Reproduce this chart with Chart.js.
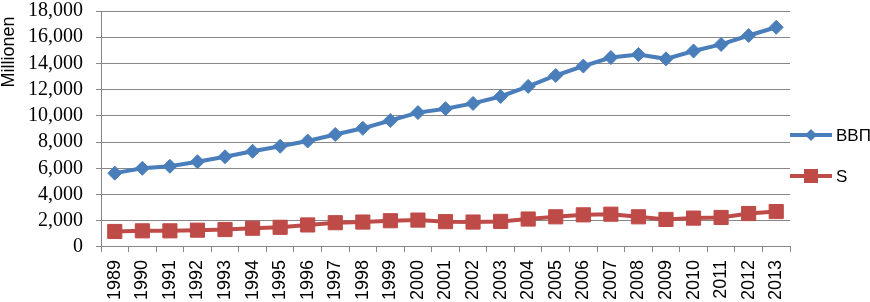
<!DOCTYPE html>
<html>
<head>
<meta charset="utf-8">
<script src="https://cdn.jsdelivr.net/npm/chart.js"></script>
<style>
  body { margin: 0; background: #fff; }
  #wrap { width: 870px; height: 302px; position: relative; }
</style>
</head>
<body>
<div id="wrap"><canvas id="myChart"></canvas></div>
<script>
const years = ['1989','1990','1991','1992','1993','1994','1995','1996','1997','1998','1999','2000',
  '2001','2002','2003','2004','2005','2006','2007','2008','2009','2010','2011','2012','2013'];
const bvp = [5630, 6000, 6150, 6500, 6880, 7300, 7680, 8080, 8580, 9050, 9650, 10250,
  10550, 10950, 11480, 12250, 13080, 13800, 14450, 14680, 14350, 14950, 15450, 16130, 16760];
const sVals = [1180, 1230, 1230, 1280, 1330, 1430, 1500, 1680, 1850, 1900, 2000, 2050,
  1930, 1900, 1950, 2130, 2300, 2450, 2500, 2300, 2100, 2200, 2250, 2550, 2700];
const yMax = 18000;
const yStep = 2000;
const yTitle = 'Millionen';

const blue = '#4a7ebb';
const red = '#be4b48';
const gridColor = '#878787';

// legend drawn by hand: line + marker + label, like the office style
const sideLegend = {
  id: 'sideLegend',
  afterDraw(chart) {
    const ctx = chart.ctx;
    const x0 = chart.chartArea.right;
    const rows = [
      { label: 'ВВП', color: blue, shape: 'diamond', y: 135 },
      { label: 'S', color: red, shape: 'square', y: 176 }
    ];
    ctx.save();
    rows.forEach(r => {
      ctx.strokeStyle = r.color;
      ctx.lineWidth = 4;
      ctx.beginPath();
      ctx.moveTo(x0, r.y);
      ctx.lineTo(x0 + 42, r.y);
      ctx.stroke();
      ctx.fillStyle = r.color;
      const cx = x0 + 21;
      ctx.beginPath();
      if (r.shape === 'diamond') {
        ctx.moveTo(cx, r.y - 6);
        ctx.lineTo(cx + 6, r.y);
        ctx.lineTo(cx, r.y + 6);
        ctx.lineTo(cx - 6, r.y);
        ctx.closePath();
      } else {
        ctx.rect(cx - 7, r.y - 7, 14, 14);
      }
      ctx.fill();
      ctx.fillStyle = '#000';
      ctx.font = '17px "Liberation Sans", Arial, sans-serif';
      ctx.textBaseline = 'middle';
      ctx.textAlign = 'left';
      ctx.fillText(r.label, x0 + 46, r.y + 1);
    });

    // y axis title, sits near the top like in the original
    ctx.translate(9, 52);
    ctx.rotate(-Math.PI / 2);
    ctx.fillStyle = '#000';
    ctx.font = '18px "Liberation Sans", Arial, sans-serif';
    ctx.textAlign = 'center';
    ctx.textBaseline = 'middle';
    ctx.fillText(yTitle, 0, 0);
    ctx.restore();
  }
};

const ctx = document.getElementById('myChart').getContext('2d');
const myChart = new Chart(ctx, {
  type: 'line',
  data: {
    labels: years,
    datasets: [
      {
        label: 'ВВП',
        data: bvp,
        borderColor: blue,
        backgroundColor: blue,
        borderWidth: 4,
        pointStyle: 'rectRot',
        pointRadius: 7,
        pointBorderWidth: 1,
        tension: 0
      },
      {
        label: 'S',
        data: sVals,
        borderColor: red,
        backgroundColor: red,
        borderWidth: 4,
        pointStyle: 'rect',
        pointRadius: 10,
        pointBorderWidth: 1,
        tension: 0
      }
    ]
  },
  options: {
    responsive: true,
    maintainAspectRatio: false,
    animation: false,
    layout: { padding: { top: 0, right: 80, left: 0, bottom: -6 } },
    plugins: {
      legend: { display: false },
      tooltip: { enabled: false }
    },
    scales: {
      x: {
        offset: true,
        grid: { offset: true, drawOnChartArea: false, color: gridColor, tickLength: 5 },
        border: { color: gridColor },
        ticks: {
          maxRotation: 90, minRotation: 90, autoSkip: false, padding: 8,
          color: '#000',
          font: { family: '"Liberation Sans", Arial, sans-serif', size: 18 }
        }
      },
      y: {
        min: 0,
        max: yMax,
        // fixed axis box so the plot starts where the original does
        afterFit(scale) {
          scale.width = 101;
          scale.paddingTop = 7;
          scale.paddingBottom = 0;
        },
        grid: { color: gridColor, tickLength: 5 },
        border: { color: gridColor },
        ticks: {
          stepSize: yStep,
          autoSkip: false,
          padding: 13,
          color: '#000',
          font: { family: '"Liberation Serif", "Times New Roman", serif', size: 20 },
          callback: v => v.toLocaleString('en-US')
        }
      }
    }
  },
  plugins: [sideLegend]
});
</script>
</body>
</html>
